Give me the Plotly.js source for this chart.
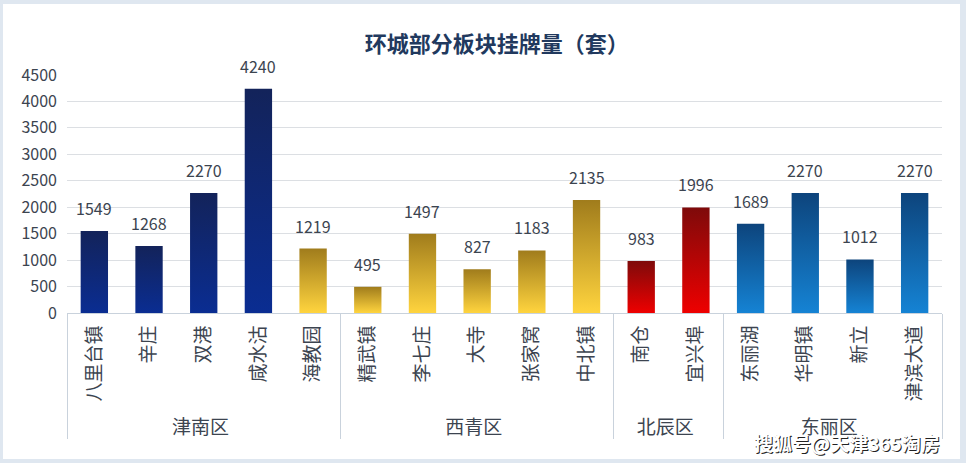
<!DOCTYPE html>
<html><head><meta charset="utf-8">
<script src="https://cdn.plot.ly/plotly-3.0.1.min.js"></script>
<style>
html,body{margin:0;padding:0;background:#dfe7f0;width:966px;height:463px;overflow:hidden}
#chart{position:absolute;left:3px;top:4px;width:957px;height:455px;background:#fff}
</style></head><body>
<div id="chart"></div>
<script>
const districts = ["津南区","津南区","津南区","津南区","津南区","西青区","西青区","西青区","西青区","西青区","北辰区","北辰区","东丽区","东丽区","东丽区","东丽区"];
const areas = ["八里台镇","辛庄","双港","咸水沽","海教园","精武镇","李七庄","大寺","张家窝","中北镇","南仓","宜兴埠","东丽湖","华明镇","新立","津滨大道"];
const listings = [1549,1268,2270,4240,1219,495,1497,827,1183,2135,983,1996,1689,2270,1012,2270];
const colorKeys = ["navy","navy","navy","navy","gold","gold","gold","gold","gold","gold","red","red","blue","blue","blue","blue"];

const solid = {navy:"#0c2570", gold:"#e6b52c", red:"#c20606", blue:"#1262ad"};
const grads = {
  navy:["#13235a","#0a2d92"],
  gold:["#a07c1c","#ffd43e"],
  red:["#7e0a0a","#ee0000"],
  blue:["#0d447c","#1583d4"]
};

const font = "'Noto Sans CJK SC','Noto Sans',sans-serif";
const txtColor = "#3c4450";

const trace = {
  type:"bar",
  x:[districts, areas],
  y:listings,
  marker:{color:colorKeys.map(k=>solid[k])},
  hoverinfo:"x+y"
};

const valueLabels = listings.map((v,i)=>({
  xref:"x",yref:"y",x:i,y:v,text:String(v),showarrow:false,
  xanchor:"center",yanchor:"bottom",yshift:9,
  font:{size:16,color:txtColor,family:font}
}));

const layout = {
  margin:{l:64,r:18,t:71,b:146},
  paper_bgcolor:"#ffffff",
  plot_bgcolor:"#ffffff",
  bargap:0.5,
  showlegend:false,
  font:{family:font,color:txtColor},
  title:{text:"<b>环城部分板块挂牌量（套）</b>",x:0.516,xanchor:"center",y:0.912,yanchor:"middle",
         font:{size:22,color:"#21395e",family:font}},
  yaxis:{range:[0,4500],dtick:500,tick0:0,showgrid:true,gridcolor:"#dcdfe3",gridwidth:1,
         zeroline:false,showline:false,ticks:"",tickfont:{size:16,color:txtColor},ticklabelstandoff:9},
  xaxis:{type:"multicategory",tickangle:-90,tickfont:{size:19,color:txtColor},ticklabelstandoff:4,
         showline:true,linecolor:"#c9d2dc",linewidth:1,showdividers:true,dividercolor:"#c9d2dc",dividerwidth:1,
         ticks:"",showgrid:false},
  annotations:valueLabels.concat([
    {xref:"paper",yref:"paper",x:1.0,y:-0.61,xanchor:"right",yanchor:"bottom",showarrow:false,
     text:"<b>搜狐号@天津365淘房</b>",font:{size:19,color:"#222",family:font},xshift:1,yshift:-1},
    {xref:"paper",yref:"paper",x:1.0,y:-0.61,xanchor:"right",yanchor:"bottom",showarrow:false,
     text:"<b>搜狐号@天津365淘房</b>",font:{size:19,color:"#ffffff",family:font}}
  ])
};

Plotly.newPlot("chart",[trace],layout,{displayModeBar:false,staticPlot:true}).then(gd=>{
  const svg = gd.querySelector("svg.main-svg");
  const ns = "http://www.w3.org/2000/svg";
  let defs = svg.querySelector("defs");
  Object.keys(grads).forEach(k=>{
    const g = document.createElementNS(ns,"linearGradient");
    g.setAttribute("id","g_"+k);
    g.setAttribute("x1","0");g.setAttribute("y1","0");g.setAttribute("x2","0");g.setAttribute("y2","1");
    [[0,grads[k][0]],[1,grads[k][1]]].forEach(([o,c])=>{
      const s=document.createElementNS(ns,"stop");
      s.setAttribute("offset",o);s.setAttribute("stop-color",c);g.appendChild(s);
    });
    defs.appendChild(g);
  });
  gd.querySelectorAll(".bars .point path").forEach((p,i)=>{
    p.style.fill = "url(#g_"+colorKeys[i]+")";
  });
});
</script></body></html>
